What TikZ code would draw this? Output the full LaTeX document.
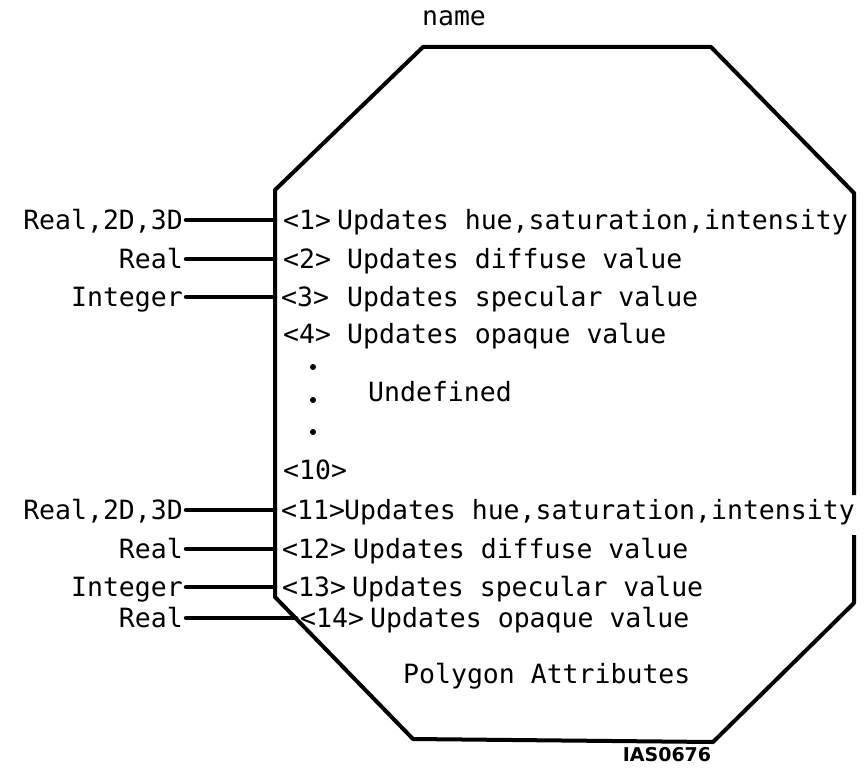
\documentclass[tikz,border=0pt]{standalone}
\usepackage{fontspec}
\setmonofont{DejaVu Sans Mono}
\setsansfont{DejaVu Sans}
\usetikzlibrary{positioning}
\tikzset{
  pa edge/.style={draw=black, line width=4pt, line join=round},
  pa wire/.style={draw=black, line width=4.5pt, line cap=round, shorten <=3pt},
  pa text/.style={font=\ttfamily\fontsize{26.5}{30}\selectfont, inner sep=0pt, text height=19pt, text depth=0pt, anchor=west},
  pa label/.style={pa text, anchor=east},
  pa code/.style={font=\sffamily\bfseries\fontsize{19}{21}\selectfont, inner sep=0pt, text height=13pt, text depth=0pt},
}

\begin{document}
\begin{tikzpicture}[x=1pt,y=-1pt]
  \useasboundingbox (0,0) rectangle (866,768);
  % outline, left open where line 11 runs over the right side
  \draw[pa edge] (854,535) -- (854,603) -- (713,742) -- (413,739) -- (275,597)
    -- (275,190) -- (423,47) -- (711,47) -- (854,193) -- (854,495);
  \node[pa text, anchor=center] (name) at (454,16) {name};

  % ports on the left side
  \coordinate (p1) at (275,220);
  \coordinate (p2) at (275,259);
  \coordinate (p3) at (275,297);
  \coordinate (p11) at (275,510);
  \coordinate (p12) at (275,549);
  \coordinate (p13) at (275,587);
  \coordinate (p14) at (296,618);

  % input types
  \node[pa label] (l1) at (183,220) {Real,2D,3D};
  \node[pa label] (l2) at (183,259) {Real};
  \node[pa label] (l3) at (183,297) {Integer};
  \node[pa label] (l11) at (183,510) {Real,2D,3D};
  \node[pa label] (l12) at (183,549) {Real};
  \node[pa label] (l13) at (183,587) {Integer};
  \node[pa label] (l14) at (183,618) {Real};
  \foreach \n in {1,2,3,11,12,13,14}
    \draw[pa wire] (l\n.east) -- (p\n);

  % attribute lines
  \node[pa text] (t1) at (283,220) {<1>};
  \node[pa text] (d1) at (337,220) {Updates hue,saturation,intensity};
  \node[pa text] (t2) at (283,259) {<2>};
  \node[pa text] (d2) at (347,259) {Updates diffuse value};
  \node[pa text] (t3) at (281,297) {<3>};
  \node[pa text] (d3) at (347,297) {Updates specular value};
  \node[pa text] (t4) at (283,334) {<4>};
  \node[pa text] (d4) at (347,334) {Updates opaque value};
  \foreach \y in {367,400,432}
    \fill (313,\y) circle (3);
  \node[pa text] (undef) at (368,392) {Undefined};
  \node[pa text] (t10) at (283,470) {<10>};
  \node[pa text] (t11) at (281,510) {<11>};
  \node[pa text] (d11) at (344,510) {Updates hue,saturation,intensity};
  \node[pa text] (t12) at (282,549) {<12>};
  \node[pa text] (d12) at (353,549) {Updates diffuse value};
  \node[pa text] (t13) at (282,587) {<13>};
  \node[pa text] (d13) at (352,587) {Updates specular value};
  \node[pa text] (t14) at (300,618) {<14>};
  \node[pa text] (d14) at (370,618) {Updates opaque value};

  \node[pa text] (title) at (403,674) {Polygon Attributes};
  \node[pa code] (code) at (667,755) {IAS0676};
\end{tikzpicture}
\end{document}
